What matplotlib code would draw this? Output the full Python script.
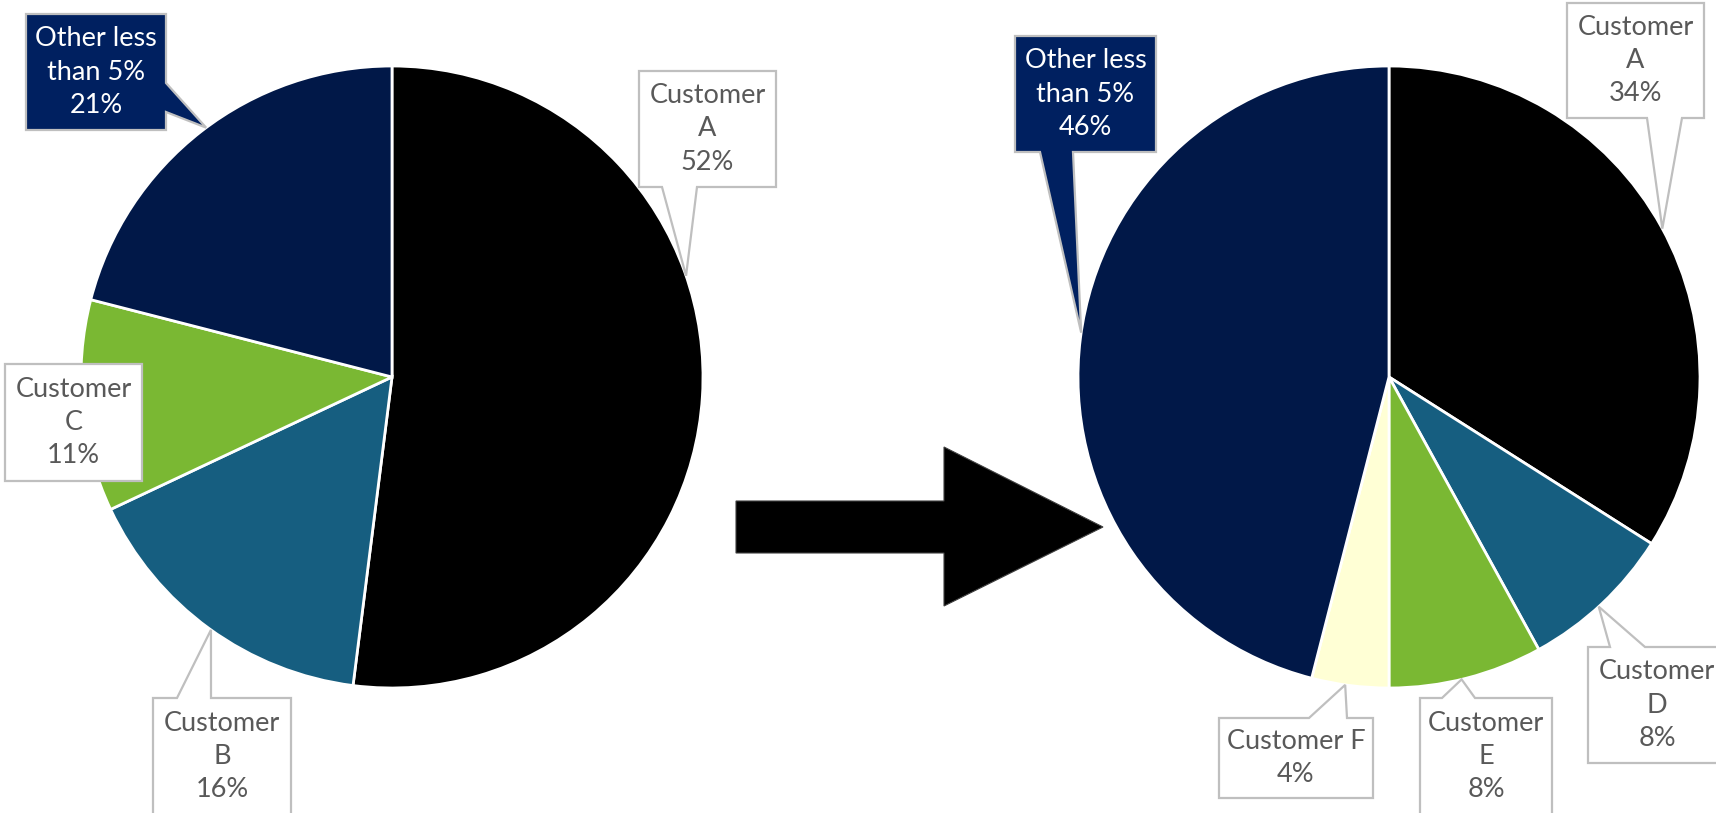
import numpy as np
from matplotlib import pyplot as plt
from matplotlib.patches import Polygon

W, H = 1716, 813

# customer share before and after
before_names = ["Customer\nA", "Customer\nB", "Customer\nC", "Other less\nthan 5%"]
before_vals = [52, 16, 11, 21]
after_names = ["Customer\nA", "Customer\nD", "Customer\nE", "Customer F", "Other less\nthan 5%"]
after_vals = [34, 8, 8, 4, 46]

NAVY = "#011848"
TEAL = "#165e80"
GREEN = "#7ab833"
PALE = "#ffffd5"
before_colors = ["black", TEAL, GREEN, NAVY]
after_colors = ["black", TEAL, GREEN, PALE, NAVY]

# callout boxes (pixel coords, y down): x0, y0, x1, y1, pointer side, base0, base1, tip angle
before_boxes = [
    (639, 71, 776, 187, "bottom", 662, 697, 71),
    (153, 698, 291, 815, "top", 177, 211, 215.6),
    (5, 364, 142, 481, None, 0, 0, 0),
    (26, 14, 166, 130, "right", 83, 112, 323.3),
]
after_boxes = [
    (1567, 3, 1704, 118, "bottom", 1647, 1682, 61.5),
    (1588, 647, 1726, 763, "top", 1610, 1645, 137.6),
    (1420, 698, 1552, 815, "top", 1442, 1475, 166.5),
    (1219, 718, 1373, 798, "top", 1309, 1347, 188.1),
    (1015, 36, 1156, 152, "bottom", 1040, 1073, 278.2),
]

R = 311
CENTERS = [(392, 377), (1389, 377)]

fig = plt.figure(figsize=(W / 100, H / 100), dpi=100)
ax = fig.add_axes([0, 0, 1, 1])


def callout(box, center, fill, text, tcolor):
    x0, y0, x1, y1, side, b0, b1, ang = box
    cx, cy = center
    t = np.radians(ang)
    tip = (cx + R * np.sin(t), cy - R * np.cos(t))
    if side == "bottom":
        pts = [(x0, y0), (x1, y0), (x1, y1), (b1, y1), tip, (b0, y1), (x0, y1)]
    elif side == "top":
        pts = [(x0, y0), (b0, y0), tip, (b1, y0), (x1, y0), (x1, y1), (x0, y1)]
    elif side == "right":
        pts = [(x0, y0), (x1, y0), (x1, b0), tip, (x1, b1), (x1, y1), (x0, y1)]
    else:
        pts = [(x0, y0), (x1, y0), (x1, y1), (x0, y1)]
    pts = [(px, H - py) for px, py in pts]
    ax.add_patch(Polygon(pts, closed=True, facecolor=fill, edgecolor="#bfbfbf",
                         linewidth=1.6, zorder=5))
    ax.text((x0 + x1) / 2, H - (y0 + y1) / 2, text, ha="center", va="center",
            color=tcolor, fontsize=19.5, family="Lato", linespacing=1.42, zorder=6)


for names, vals, colors, boxes, c in [
        (before_names, before_vals, before_colors, before_boxes, CENTERS[0]),
        (after_names, after_vals, after_colors, after_boxes, CENTERS[1])]:
    ax.pie(vals, colors=colors, startangle=90, counterclock=False,
           center=(c[0], H - c[1]), radius=R,
           wedgeprops=dict(edgecolor="white", linewidth=2))
    for name, v, box in zip(names, vals, boxes):
        other = name.startswith("Other")
        callout(box, c, "#002060" if other else "white", f"{name}\n{v}%",
                "white" if other else "#595959")

# arrow between the two pies
arrow = [(736, 501), (944, 501), (944, 447), (1103, 527), (944, 606), (944, 553), (736, 553)]
ax.add_patch(Polygon([(x, H - y) for x, y in arrow], closed=True,
                     facecolor="black", edgecolor="#404040", linewidth=0.8))

ax.set_xlim(0, W)
ax.set_ylim(0, H)
ax.set_aspect("auto")
ax.axis("off")
fig.savefig("out.png", dpi=100)
